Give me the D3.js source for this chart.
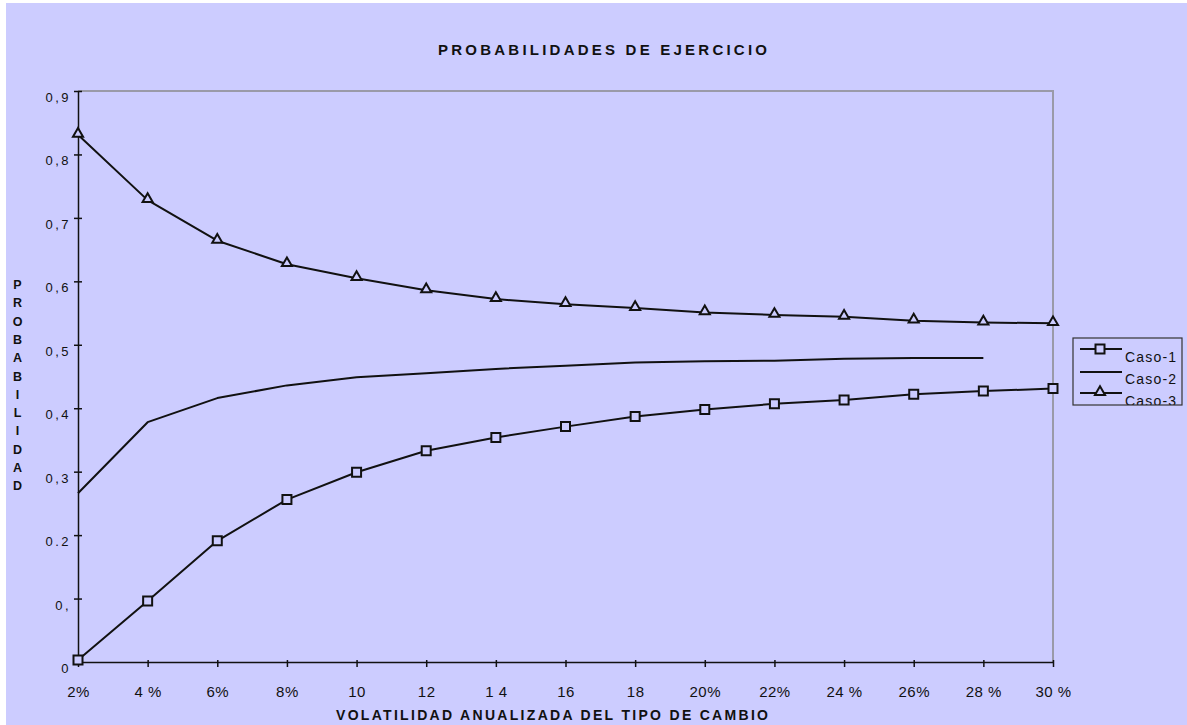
<!DOCTYPE html>
<html>
<head>
<meta charset="utf-8">
<script src="https://cdn.jsdelivr.net/npm/d3@7"></script>
<style>
  html, body { margin: 0; padding: 0; background: #ffffff; }
  svg { display: block; }
  text { font-family: "Liberation Sans", Arial, sans-serif; fill: #111; }
</style>
</head>
<body>
<svg id="chart" width="1187" height="725"></svg>
<script>
// Volatility categories on the x axis
const categories = ["2%", "4%", "6%", "8%", "10", "12", "14", "16", "18", "20%", "22%", "24%", "26%", "28%", "30%"];
const xTickLabels = ["2%", "4 %", "6%", "8%", "10", "12", "1 4", "16", "18", "20%", "22%", "24 %", "26%", "28 %", "30 %"];

// Probability ticks and their printed labels
const yTicks = [0, 0.1, 0.2, 0.3, 0.4, 0.5, 0.6, 0.7, 0.8, 0.9];
const yTickLabels = ["0", "0,", "0.2", "0,3", "0,4", "0,5", "0,6", "0,7", "0,8", "0,9"];

// Exercise probabilities per case
const caso1 = [0.003, 0.096, 0.191, 0.256, 0.299, 0.333, 0.354, 0.371, 0.387, 0.398, 0.407, 0.413, 0.422, 0.427, 0.431];
const caso2 = [0.266, 0.378, 0.416, 0.436, 0.449, 0.455, 0.462, 0.467, 0.472, 0.474, 0.475, 0.478, 0.479, 0.479, null];
const caso3 = [0.831, 0.728, 0.664, 0.627, 0.605, 0.586, 0.572, 0.564, 0.558, 0.551, 0.547, 0.544, 0.538, 0.535, 0.534];

const seriesNames = ["Caso-1", "Caso-2", "Caso-3"];
const seriesValues = [caso1, caso2, caso3];
const seriesMarkers = ["square", "none", "triangle"];

const BG = "#ccccff";
const svg = d3.select("#chart");

// Chart background (thin white margin at top and left)
svg.append("rect").attr("x", 6).attr("y", 3).attr("width", 1187 - 6).attr("height", 725 - 3).attr("fill", BG);

const x = d3.scalePoint().domain(categories).range([78, 1053]);
const y = d3.scaleLinear().domain([0, 0.9]).range([662, 91]);

// Plot frame: grey top and right edges
svg.append("path")
  .attr("d", `M${x.range()[0]},${y(0.9)}H${x.range()[1]}V${y(0)}`)
  .attr("fill", "none").attr("stroke", "#9a9aa8").attr("stroke-width", 2);

// Y axis
const yAxis = svg.append("g").attr("transform", `translate(${x.range()[0]},0)`)
  .call(d3.axisLeft(y).tickValues(yTicks).tickSize(4).tickSizeOuter(0)
    .tickFormat((d, i) => yTickLabels[i]));
yAxis.select(".domain").attr("stroke", "#111").attr("stroke-width", 1.5);
yAxis.selectAll(".tick line").attr("x1", 4).attr("stroke", "#111").attr("stroke-width", 1.5);
yAxis.selectAll(".tick text")
  .attr("x", -7).attr("dy", 0).attr("y", 10.5)
  .attr("font-size", 13).attr("letter-spacing", 2.5)
  .attr("font-family", "\"Liberation Sans\", Arial, sans-serif").attr("fill", "#151515");

// X axis
const xAxis = svg.append("g").attr("transform", `translate(0,${y(0)})`)
  .call(d3.axisBottom(x).tickSize(5).tickSizeOuter(0)
    .tickFormat((d, i) => xTickLabels[i]));
xAxis.select(".domain").attr("stroke", "#111").attr("stroke-width", 1.5);
xAxis.selectAll(".tick line").attr("y1", -2).attr("stroke", "#111").attr("stroke-width", 1.5);
xAxis.selectAll(".tick text")
  .attr("y", 35).attr("dy", 0)
  .attr("font-size", 15).attr("letter-spacing", 0.5)
  .attr("font-family", "\"Liberation Sans\", Arial, sans-serif").attr("fill", "#151515");

// Series lines and markers
const line = d3.line()
  .defined(d => d.v != null)
  .x(d => x(d.c))
  .y(d => y(d.v));

const squareSym = d3.symbol().type(d3.symbolSquare).size(81);
const triSym = d3.symbol().type(d3.symbolTriangle).size(44);

seriesValues.forEach((vals, si) => {
  const pts = categories.map((c, i) => ({ c, v: vals[i] }));
  svg.append("path").datum(pts)
    .attr("d", line)
    .attr("fill", "none").attr("stroke", "#111").attr("stroke-width", 2)
    .attr("stroke-linejoin", "round");
  const m = seriesMarkers[si];
  if (m !== "none") {
    svg.append("g").selectAll("path")
      .data(pts.filter(d => d.v != null))
      .join("path")
      .attr("transform", d => `translate(${x(d.c)},${y(d.v) + (m === "triangle" ? -1 : 0)})`)
      .attr("d", m === "square" ? squareSym : triSym)
      .attr("fill", BG).attr("stroke", "#111").attr("stroke-width", 2);
  }
});

// Title
svg.append("text")
  .attr("x", 438).attr("y", 55)
  .attr("font-size", 15).attr("font-weight", "bold")
  .attr("textLength", 329).attr("lengthAdjust", "spacing")
  .text("PROBABILIDADES DE EJERCICIO");

// X axis title
svg.append("text")
  .attr("x", 336).attr("y", 720)
  .attr("font-size", 14).attr("font-weight", "bold")
  .attr("textLength", 432).attr("lengthAdjust", "spacing")
  .text("VOLATILIDAD ANUALIZADA DEL TIPO DE CAMBIO");

// Y axis title, letters stacked vertically
const yTitle = "PROBABILIDAD".split("");
svg.append("g").selectAll("text")
  .data(yTitle)
  .join("text")
  .attr("x", 17.5).attr("y", (d, i) => 289 + i * 18.3)
  .attr("text-anchor", "middle")
  .attr("font-size", 12.5).attr("font-weight", "bold")
  .text(d => d);

// Legend
const lg = svg.append("g");
const lx = 1073, ly = 338, lw = 109, lh = 67;
lg.append("clipPath").attr("id", "legclip")
  .append("rect").attr("x", lx).attr("y", ly).attr("width", lw).attr("height", lh);
const rowsY = [349, 372, 393];
const textY = [362, 384, 406];
const lc = lg.append("g").attr("clip-path", "url(#legclip)");
seriesNames.forEach((name, i) => {
  lc.append("line").attr("x1", 1080).attr("x2", 1122)
    .attr("y1", rowsY[i]).attr("y2", rowsY[i])
    .attr("stroke", "#111").attr("stroke-width", 2);
  if (seriesMarkers[i] !== "none") {
    lc.append("path")
      .attr("transform", `translate(1100,${rowsY[i] + (seriesMarkers[i] === "triangle" ? -1 : 0)})`)
      .attr("d", seriesMarkers[i] === "square" ? squareSym : triSym)
      .attr("fill", BG).attr("stroke", "#111").attr("stroke-width", 2);
  }
  lc.append("text").attr("x", 1125).attr("y", textY[i])
    .attr("font-size", 14).attr("letter-spacing", 1.2)
    .text(name);
});
lg.append("rect").attr("x", lx).attr("y", ly).attr("width", lw).attr("height", lh)
  .attr("fill", "none").attr("stroke", "#333").attr("stroke-width", 1.2);
</script>
</body>
</html>
